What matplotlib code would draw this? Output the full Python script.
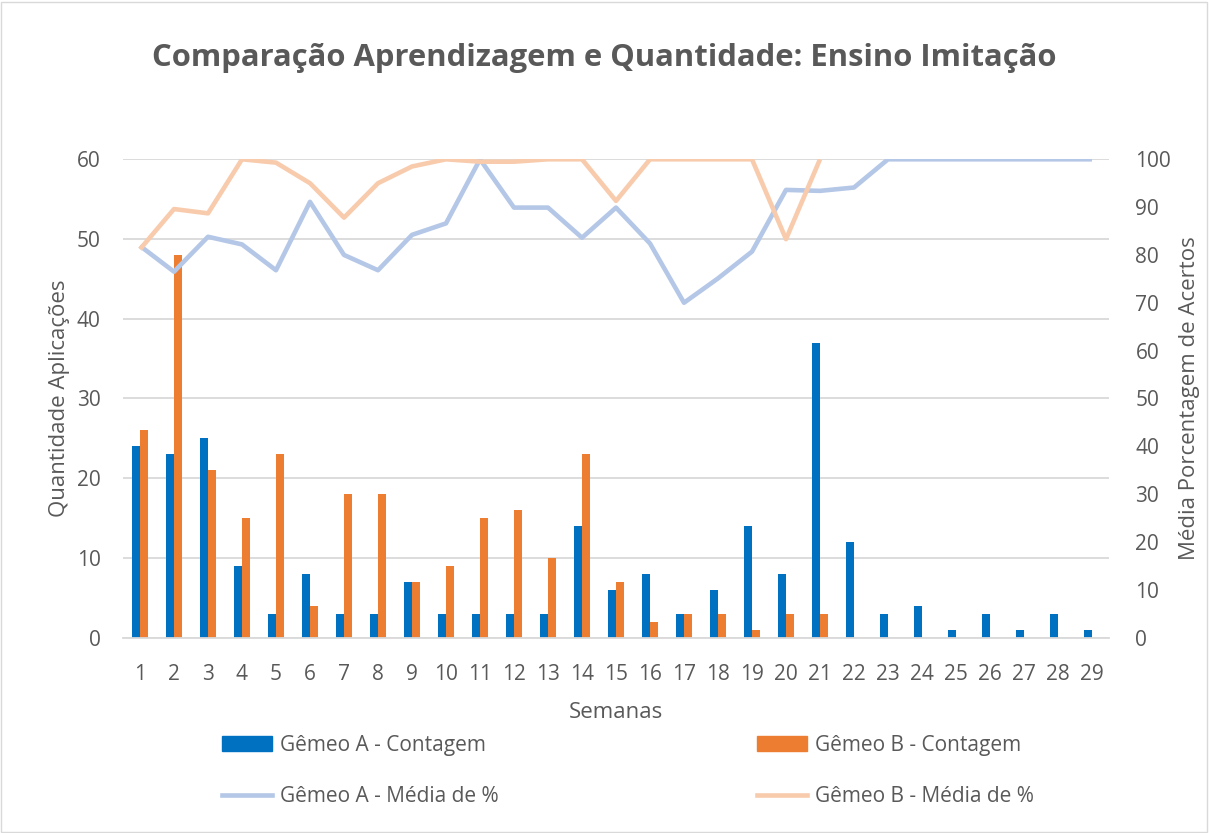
import matplotlib
matplotlib.use("Agg")
import matplotlib.pyplot as plt
import numpy as np
from matplotlib.patches import Rectangle
from matplotlib.lines import Line2D

weeks = list(range(1, 30))
count_a = [24, 23, 25, 9, 3, 8, 3, 3, 7, 3, 3, 3, 3, 14, 6, 8, 3, 6, 14, 8, 37, 12, 3, 4, 1, 3, 1, 3, 1]
count_b = [26, 48, 21, 15, 23, 4, 18, 18, 7, 9, 15, 16, 10, 23, 7, 2, 3, 3, 1, 3, 3,
           np.nan, np.nan, np.nan, np.nan, np.nan, np.nan, np.nan, np.nan]
mean_a = [81.9, 76.5, 83.8, 82.2, 76.8, 91.1, 80.0, 76.8, 84.2, 86.6, 100, 89.9, 89.9, 83.6,
          89.9, 82.4, 70.0, 75.1, 80.7, 93.6, 93.4, 94.1, 100, 100, 100, 100, 100, 100, 100]
mean_b = [81.2, 89.6, 88.7, 100, 99.3, 95.0, 87.8, 95.0, 98.5, 100, 99.5, 99.5, 100, 100,
          91.3, 100, 100, 100, 100, 83.3, 100,
          np.nan, np.nan, np.nan, np.nan, np.nan, np.nan, np.nan, np.nan]

title = "Comparação Aprendizagem e Quantidade: Ensino Imitação"
labels = ["Gêmeo A - Contagem", "Gêmeo B - Contagem", "Gêmeo A - Média de %", "Gêmeo B - Média de %"]

plt.rcParams['font.family'] = ['Open Sans', 'DejaVu Sans']
TXT = '#595959'
C_A, C_B = '#0070C0', '#ED7D31'
L_A, L_B = '#B4C7E7', '#F8CBAD'

W, H = 1209, 833
fig = plt.figure(figsize=(W / 100, H / 100), dpi=100)
fig.patches.append(Rectangle((1 / W, 1 / H), 1 - 3 / W, 1 - 3 / H, transform=fig.transFigure,
                             fill=False, edgecolor='#D9D9D9', linewidth=1))

ax = fig.add_axes([123 / W, 1 - 637.5 / H, 986 / W, 478.2 / H])
ax2 = ax.twinx()

x = np.array(weeks)
bw = 0.24
ax.bar(x - bw / 2, count_a, width=bw, color=C_A, zorder=2)
ax.bar(x + bw / 2, count_b, width=bw, color=C_B, zorder=2)
ax.set_ylim(0, 60)
ax.set_yticks(range(0, 61, 10))
ax.set_xlim(0.5, 29.5)
ax.set_xticks(weeks)
ax.yaxis.grid(True, color='#D9D9D9', linewidth=1.3, zorder=0)
ax.set_axisbelow(True)

ax2.plot(x, mean_a, color=L_A, linewidth=3.3, solid_capstyle='butt', zorder=3)
ax2.plot(x, mean_b, color=L_B, linewidth=3.3, solid_capstyle='butt', zorder=3)
ax2.set_ylim(0, 100)
ax2.set_yticks(range(0, 101, 10))

for a in (ax, ax2):
    for s in a.spines.values():
        s.set_visible(False)
    a.tick_params(length=0, labelsize=15, labelcolor=TXT)
ax.tick_params(axis='x', pad=19)
ax.tick_params(axis='y', pad=16)
ax2.tick_params(axis='y', pad=19)
ax.spines['bottom'].set_visible(True)
ax.spines['bottom'].set_color('#D9D9D9')
ax.spines['bottom'].set_linewidth(1.3)

ax.set_xlabel("Semanas", fontsize=16, color=TXT, labelpad=12)
ax.set_ylabel("Quantidade Aplicações", fontsize=16, color=TXT, labelpad=5)
ax2.set_ylabel("Média Porcentagem de Acertos", fontsize=16, color=TXT, labelpad=6)

fig.text(0.5, 1 - 58 / H, title, ha='center', va='center', fontsize=22.3, fontweight='bold', color=TXT)

h1 = [Rectangle((0, 0), 1, 1, color=C_A), Line2D([], [], color=L_A, linewidth=3.3)]
h2 = [Rectangle((0, 0), 1, 1, color=C_B), Line2D([], [], color=L_B, linewidth=3.3)]
common = dict(frameon=False, fontsize=15, labelcolor=TXT, handlelength=2.4, handletextpad=0.4,
              labelspacing=1.45, borderpad=0, borderaxespad=0, loc='upper left')
fig.legend(h1, [labels[0], labels[2]], bbox_to_anchor=(222 / W, 1 - 735 / H), **common)
fig.legend(h2, [labels[1], labels[3]], bbox_to_anchor=(757 / W, 1 - 735 / H), **common)

fig.savefig("out.png", dpi=100)
